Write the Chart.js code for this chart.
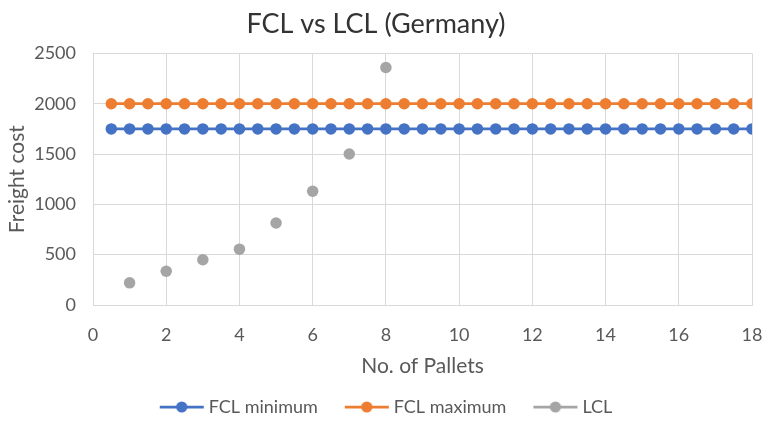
<!DOCTYPE html>
<html>
<head>
<meta charset="utf-8">
<script src="https://cdn.jsdelivr.net/npm/chart.js@4.4.1/dist/chart.umd.min.js"></script>
<style>
  html, body { margin: 0; padding: 0; background: #ffffff; }
  #wrap { width: 766px; height: 422px; }
</style>
</head>
<body>
<div id="wrap"><canvas id="c" width="766" height="422"></canvas></div>
<script>
// Number of pallets sampled for the FCL (full container) price band
const palletSteps = [0.5, 1, 1.5, 2, 2.5, 3, 3.5, 4, 4.5, 5, 5.5, 6, 6.5, 7, 7.5, 8, 8.5, 9,
                     9.5, 10, 10.5, 11, 11.5, 12, 12.5, 13, 13.5, 14, 14.5, 15, 15.5, 16, 16.5, 17, 17.5, 18];
const fclMinimum = [1750, 1750, 1750, 1750, 1750, 1750, 1750, 1750, 1750, 1750, 1750, 1750,
                    1750, 1750, 1750, 1750, 1750, 1750, 1750, 1750, 1750, 1750, 1750, 1750,
                    1750, 1750, 1750, 1750, 1750, 1750, 1750, 1750, 1750, 1750, 1750, 1750];
const fclMaximum = [2000, 2000, 2000, 2000, 2000, 2000, 2000, 2000, 2000, 2000, 2000, 2000,
                    2000, 2000, 2000, 2000, 2000, 2000, 2000, 2000, 2000, 2000, 2000, 2000,
                    2000, 2000, 2000, 2000, 2000, 2000, 2000, 2000, 2000, 2000, 2000, 2000];
// LCL (groupage) quotes per pallet count
const lclPallets = [1, 2, 3, 4, 5, 6, 7, 8];
const lclCost = [220, 335, 450, 555, 815, 1130, 1500, 2360];

const seriesNames = ['FCL minimum', 'FCL maximum', 'LCL'];
const seriesColors = ['#4472C4', '#ED7D31', '#A5A5A5'];

const FONT = 'Lato, "Open Sans", sans-serif';
const TEXT = '#595959';
const GRID = '#D9D9D9';

function pairs(xs, ys) { return xs.map((x, i) => ({ x: x, y: ys[i] })); }

// Legend swatch: short line with a dot, placed toward the right of the image
// so the gap before the label stays tight while items stay well apart.
function swatch(color) {
  const cv = document.createElement('canvas');
  cv.width = 70; cv.height = 14;
  const g = cv.getContext('2d');
  g.strokeStyle = color; g.lineWidth = 2.75;
  g.beginPath(); g.moveTo(25, 7); g.lineTo(69, 7); g.stroke();
  g.fillStyle = color;
  g.beginPath(); g.arc(47, 7, 5.6, 0, Math.PI * 2); g.fill();
  return cv;
}

const datasets = [
  { label: seriesNames[0], data: pairs(palletSteps, fclMinimum), showLine: true },
  { label: seriesNames[1], data: pairs(palletSteps, fclMaximum), showLine: true },
  { label: seriesNames[2], data: pairs(lclPallets, lclCost), showLine: false }
].map((d, i) => Object.assign(d, {
  borderColor: seriesColors[i],
  backgroundColor: seriesColors[i],
  pointBackgroundColor: seriesColors[i],
  pointBorderColor: seriesColors[i],
  pointRadius: 5.75,
  pointBorderWidth: 0,
  borderWidth: 2.75,
  order: 3 - i
}));

new Chart(document.getElementById('c'), {
  type: 'scatter',
  data: { datasets: datasets },
  options: {
    responsive: false,
    animation: false,
    devicePixelRatio: 1,
    layout: { padding: { left: -23, right: -9, top: 2, bottom: -4 } },
    plugins: {
      title: {
        display: true,
        text: 'FCL vs LCL (Germany)',
        color: '#333333',
        font: { family: FONT, size: 27, weight: 'normal' },
        padding: { top: 6, bottom: 13 }
      },
      legend: {
        position: 'bottom',
        labels: {
          color: TEXT,
          font: { family: FONT, size: 18 },
          usePointStyle: true,
          pointStyleWidth: 60,
          padding: 7,
          generateLabels: (chart) => chart.data.datasets.map((d, i) => ({
            text: d.label,
            pointStyle: swatch(seriesColors[i]),
            fillStyle: seriesColors[i],
            strokeStyle: seriesColors[i],
            lineWidth: 0,
            hidden: false,
            datasetIndex: i,
            fontColor: TEXT
          }))
        }
      },
      tooltip: { enabled: false }
    },
    scales: {
      x: {
        type: 'linear',
        min: 0, max: 18,
        // fixed axis band height; only the last tick label's half width is reserved on the right
        afterFit: (s) => { s.height = 86; s.paddingRight = 14; },
        ticks: { stepSize: 2, color: TEXT, font: { family: FONT, size: 18 }, padding: 19,
                 callback: (v) => String(v) },
        grid: { color: GRID, lineWidth: 1, drawTicks: false },
        border: { color: GRID, width: 1 },
        title: { display: true, text: 'No. of Pallets', color: TEXT, font: { family: FONT, size: 21 },
                 padding: { top: 0, bottom: 12 } }
      },
      y: {
        min: 0, max: 2500,
        afterFit: (s) => { s.width = 116; },
        ticks: { stepSize: 500, color: TEXT, font: { family: FONT, size: 18 }, padding: 17,
                 callback: (v) => String(v) },
        grid: { color: GRID, lineWidth: 1, drawTicks: false },
        border: { color: GRID, width: 1 },
        title: { display: true, text: 'Freight cost', color: TEXT, font: { family: FONT, size: 21 },
                 padding: { top: 28, bottom: 0 } }
      }
    }
  }
});
</script>
</body>
</html>
